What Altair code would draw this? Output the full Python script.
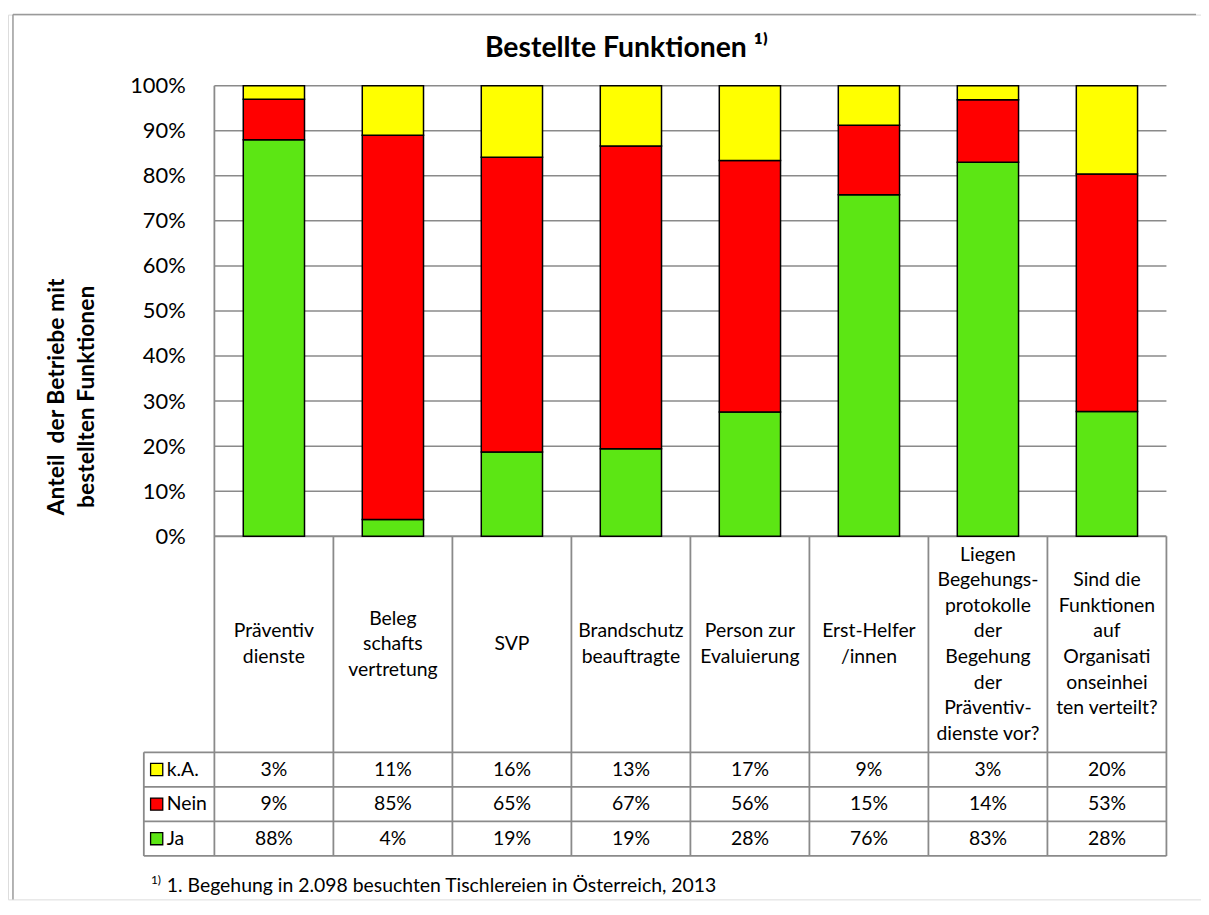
import altair as alt
import pandas as pd

# ---------------- data ----------------
categories = [
    "Präventiv\ndienste",
    "Beleg\nschafts\nvertretung",
    "SVP",
    "Brandschutz\nbeauftragte",
    "Person zur\nEvaluierung",
    "Erst-Helfer\n/innen",
    "Liegen\nBegehungs-\nprotokolle\nder\nBegehung\nder\nPräventiv-\ndienste vor?",
    "Sind die\nFunktionen\nauf\nOrganisati\nonseinhei\nten verteilt?",
]
series = ["k.A.", "Nein", "Ja"]
colors = ["#FFFF00", "#FF0000", "#5CE614"]
ja = [88.0, 3.7, 18.7, 19.4, 27.6, 75.8, 83.0, 27.7]
nein = [9.0, 85.3, 65.4, 67.2, 55.8, 15.4, 13.9, 52.7]
ka = [3.0, 11.0, 15.9, 13.4, 16.6, 8.8, 3.1, 19.6]
y_ticks = [0, 10, 20, 30, 40, 50, 60, 70, 80, 90, 100]
title_text = "Bestellte Funktionen ¹⁾"
y_title = ["Anteil \u00a0der Betriebe mit", "bestellten Funktionen"]
footnote_sup = "1)"
footnote = "1. Begehung in 2.098 besuchten Tischlereien in Österreich, 2013"

# ---------------- layout constants (data units) ----------------
HEADER_H = 47.95
ROW_H = 7.67
LINE_STEP = 5.67          # 25.7 px line spacing in y units
LEGEND_LEFT = -0.593
N = len(categories)
X_DOM = [-1.6925, 8.2487]
Y_DOM = [-80.60, 115.78]
FOOT_Y = -77.74
FONT = "Lato"
LINE = "#8a8a8a"
TS = 19.5                  # table font size

values = {"Ja": ja, "Nein": nein, "k.A.": ka}
stack_order = ["Ja", "Nein", "k.A."]

bar_rows, cell_rows, head_rows = [], [], []
for i, cat in enumerate(categories):
    base = 0.0
    for s in stack_order:
        v = values[s][i]
        bar_rows.append({"pos": i + 0.5, "series": s, "y0": base, "y1": base + v})
        base += v
    for r, s in enumerate(series):
        v = values[s][i]
        cell_rows.append({"pos": i + 0.5, "series": s,
                          "yc": -(HEADER_H + (r + 0.5) * ROW_H),
                          "label": f"{int(round(v))}%"})
    lines = cat.split("\n")
    n = len(lines)
    for k, ln in enumerate(lines):
        head_rows.append({"pos": i + 0.5, "line": ln,
                          "yc": -HEADER_H / 2 - (k - (n - 1) / 2) * LINE_STEP})
bars_df = pd.DataFrame(bar_rows)
cells_df = pd.DataFrame(cell_rows)
header_df = pd.DataFrame(head_rows)
legend_df = pd.DataFrame({"series": series,
                          "yc": [-(HEADER_H + (r + 0.5) * ROW_H) for r in range(len(series))]})
grid_df = pd.DataFrame({"y": y_ticks[1:]})

bottom = -(HEADER_H + len(series) * ROW_H)
hlines = [{"y": 0, "x0": 0, "x1": N}]
for r in range(len(series) + 1):
    hlines.append({"y": -(HEADER_H + r * ROW_H), "x0": LEGEND_LEFT, "x1": N})
hlines_df = pd.DataFrame(hlines)
vlines = [{"x": LEGEND_LEFT, "y0": -HEADER_H, "y1": bottom}, {"x": 0, "y0": 100, "y1": bottom}]
for i in range(1, N + 1):
    vlines.append({"x": i, "y0": 0, "y1": bottom})
vlines_df = pd.DataFrame(vlines)

xs = alt.Scale(domain=X_DOM, nice=False, zero=False)
ys = alt.Scale(domain=Y_DOM, nice=False, zero=False)
cs = alt.Scale(domain=series, range=colors)

yaxis = alt.Axis(
    values=y_ticks, labelExpr="datum.value + '%'", domain=False, ticks=False, grid=False,
    labelPadding=26, labelFontSize=22, labelFont=FONT, labelColor="black",
    offset=-204.3, title=y_title, titleFont=FONT, titleFontSize=23, titleFontWeight="bold",
    titleColor="black", titleX=-155, titleY=384, titleAlign="center", titleBaseline="middle",
    titleAngle=270, titleLineHeight=30,
)


def X(field=None, datum=None):
    if datum is not None:
        return alt.X(datum=datum, scale=xs, axis=None)
    return alt.X(field, scale=xs, axis=None)


def Y(field=None, datum=None):
    if datum is not None:
        return alt.Y(datum=datum, scale=ys, axis=yaxis)
    return alt.Y(field, scale=ys, axis=yaxis)


# ---------------- layers ----------------
border_left = alt.Chart().mark_rule(color="#9a9a9a", strokeWidth=1.5).encode(
    x=X(datum=X_DOM[0]), y=Y(datum=Y_DOM[0]), y2=alt.datum(Y_DOM[1]),
)
border_top = alt.Chart().mark_rule(color="#9a9a9a", strokeWidth=1.5).encode(
    x=X(datum=X_DOM[0]), x2=alt.datum(X_DOM[1]), y=Y(datum=Y_DOM[1]),
)

grid = alt.Chart(grid_df).mark_rule(color=LINE, strokeWidth=1.5).encode(
    x=X(datum=0), x2=alt.datum(N), y=Y("y:Q"),
)

bars = alt.Chart(bars_df).mark_bar(size=61.6, stroke="black", strokeWidth=1.5).encode(
    x=X("pos:Q"), y=Y("y0:Q"), y2="y1:Q",
    color=alt.Color("series:N", scale=cs, legend=None),
)

hl = alt.Chart(hlines_df).mark_rule(color=LINE, strokeWidth=1.8).encode(
    x=X("x0:Q"), x2="x1:Q", y=Y("y:Q"),
)
vl = alt.Chart(vlines_df).mark_rule(color=LINE, strokeWidth=1.8).encode(
    x=X("x:Q"), y=Y("y0:Q"), y2="y1:Q",
)

header = alt.Chart(header_df).mark_text(
    font=FONT, fontSize=TS, baseline="middle", align="center", color="black"
).encode(x=X("pos:Q"), y=Y("yc:Q"), text="line:N")

cells = alt.Chart(cells_df).mark_text(
    font=FONT, fontSize=TS, baseline="middle", align="center", color="black"
).encode(x=X("pos:Q"), y=Y("yc:Q"), text="label:N")

leg_sq = alt.Chart(legend_df).mark_square(size=150, stroke="black", strokeWidth=1.3, opacity=1).encode(
    x=X(datum=LEGEND_LEFT + 0.108), y=Y("yc:Q"),
    color=alt.Color("series:N", scale=cs, legend=None),
)
leg_tx = alt.Chart(legend_df).mark_text(
    font=FONT, fontSize=TS, baseline="middle", align="left", dx=23, color="black"
).encode(x=X(datum=LEGEND_LEFT), y=Y("yc:Q"), text="series:N")

foot_sup = alt.Chart().mark_text(
    font=FONT, fontSize=12, baseline="middle", align="left", dy=-7, color="black"
).encode(x=X(datum=-0.533), y=Y(datum=FOOT_Y), text=alt.value(footnote_sup))
foot = alt.Chart().mark_text(
    font=FONT, fontSize=19.5, baseline="middle", align="left", color="black"
).encode(x=X(datum=-0.400), y=Y(datum=FOOT_Y), text=alt.value(footnote))

chart = alt.layer(
    border_left, border_top, grid, hl, vl, bars, header, cells, leg_sq, leg_tx, foot_sup, foot
).properties(
    width=1200, height=890,
    padding={"left": 0, "top": 4, "right": 0, "bottom": 0},
    autosize="none",
    title=alt.Title(title_text, font=FONT, fontSize=28.5, fontWeight="bold", color="black",
                    anchor="middle", frame="group", baseline="middle", offset=-63, dx=22),
).configure_view(strokeWidth=0, stroke="transparent").configure(background="white")

chart.save("out.html", embed_options={"renderer": "svg", "actions": False})
